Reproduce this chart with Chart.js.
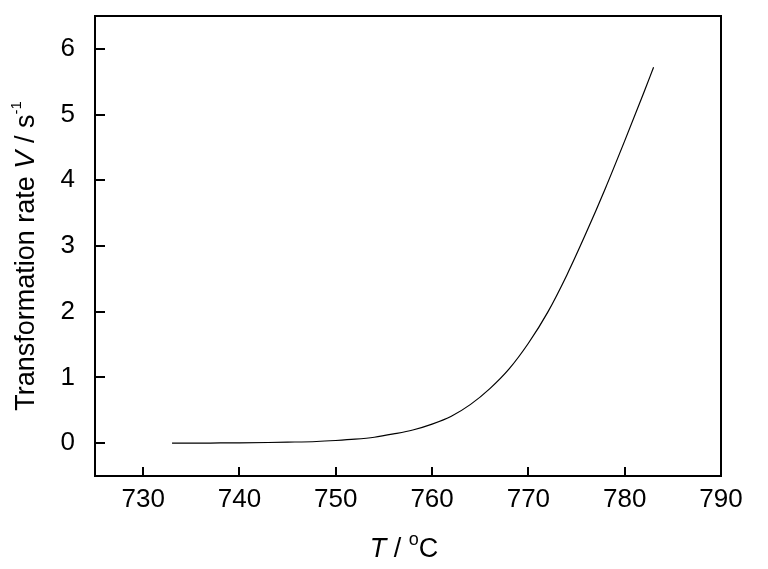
<!DOCTYPE html>
<html>
<head>
<meta charset="utf-8">
<script src="https://cdn.jsdelivr.net/npm/chart.js@4"></script>
<style>
  body { margin: 0; background: #fff; }
  #wrap { width: 768px; height: 569px; }
</style>
</head>
<body>
<div id="wrap"><canvas id="myChart"></canvas></div>
<script>
// temperature (°C) and transformation rate (1/s)
var temps = [733, 735, 738, 740, 743, 745, 748, 750, 752, 754, 756, 758, 760, 762, 764, 766, 768, 770, 772, 774, 776, 778, 780, 782, 783];
var rates = [0.0, 0.0, 0.003, 0.005, 0.01, 0.015, 0.025, 0.04, 0.06, 0.09, 0.14, 0.2, 0.29, 0.41, 0.59, 0.83, 1.13, 1.52, 1.99, 2.56, 3.2, 3.88, 4.6, 5.34, 5.72];
var xTicks = [730, 740, 750, 760, 770, 780, 790];
var yTicks = [0, 1, 2, 3, 4, 5, 6];

var FONT = '"Liberation Sans", Arial, sans-serif';

var points = temps.map(function(t, i) { return { x: t, y: rates[i] }; });

// frame, inward ticks and the axis titles (italic symbol + superscript)
var framePlugin = {
    id: 'frame',
    afterDraw: function(chart) {
        var ctx = chart.ctx;
        var a = chart.chartArea;
        var xs = chart.scales.x, ys = chart.scales.y;
        ctx.save();
        ctx.strokeStyle = '#000';
        ctx.lineWidth = 2;
        ctx.strokeRect(a.left, a.top, a.right - a.left, a.bottom - a.top);
        ctx.beginPath();
        xTicks.forEach(function(v) {
            var px = Math.round(xs.getPixelForValue(v));
            ctx.moveTo(px, a.bottom);
            ctx.lineTo(px, a.bottom - 9);
        });
        yTicks.forEach(function(v) {
            var py = Math.round(ys.getPixelForValue(v));
            ctx.moveTo(a.left, py);
            ctx.lineTo(a.left + 10, py);
        });
        ctx.stroke();

        ctx.fillStyle = '#000';
        ctx.textBaseline = 'alphabetic';
        // x title: T / °C
        var parts = [
            { t: 'T', f: 'italic 27px ' + FONT, dy: 0 },
            { t: ' / ', f: '27px ' + FONT, dy: 0 },
            { t: 'o', f: '18px ' + FONT, dy: -12 },
            { t: 'C', f: '27px ' + FONT, dy: 0 }
        ];
        drawParts(ctx, parts, 404, 557);

        // y title
        ctx.translate(34, 256);
        ctx.rotate(-Math.PI / 2);
        var yparts = [
            { t: 'Transformation rate ', f: '27px ' + FONT, dy: 0 },
            { t: 'V', f: 'italic 27px ' + FONT, dy: 0 },
            { t: ' / s', f: '27px ' + FONT, dy: 0 },
            { t: '-1', f: '15px ' + FONT, dy: -13 }
        ];
        drawParts(ctx, yparts, 0, 0);
        ctx.restore();
    }
};

function drawParts(ctx, parts, cx, baseY) {
    var total = 0;
    parts.forEach(function(p) { ctx.font = p.f; p.w = ctx.measureText(p.t).width; total += p.w; });
    var x = cx - total / 2;
    ctx.textAlign = 'left';
    parts.forEach(function(p) {
        ctx.font = p.f;
        ctx.fillText(p.t, x, baseY + p.dy);
        x += p.w;
    });
}

var ctx = document.getElementById('myChart').getContext('2d');
var chart = new Chart(ctx, {
    type: 'line',
    data: {
        datasets: [{
            data: points,
            borderColor: '#000',
            borderWidth: 1.2,
            pointRadius: 0,
            fill: false,
            cubicInterpolationMode: 'monotone'
        }]
    },
    options: {
        responsive: true,
        maintainAspectRatio: false,
        animation: false,
        layout: { padding: { top: 16, right: 47, left: 0, bottom: 0 } },
        plugins: { legend: { display: false }, tooltip: { enabled: false } },
        scales: {
            x: {
                type: 'linear',
                min: 725,
                max: 790,
                afterBuildTicks: function(scale) {
                    scale.ticks = xTicks.map(function(v) { return { value: v }; });
                },
                afterFit: function(scale) {
                    scale.height = 93;
                    scale.paddingLeft = 0; scale.paddingRight = 0;
                },
                grid: { display: false },
                border: { display: false },
                ticks: { color: '#000', padding: 0, maxRotation: 0, font: { family: FONT, size: 26 } }
            },
            y: {
                min: -0.5,
                max: 6.5,
                afterBuildTicks: function(scale) {
                    scale.ticks = yTicks.map(function(v) { return { value: v }; });
                },
                afterFit: function(scale) {
                    scale.width = 95;
                    scale.paddingTop = 0; scale.paddingBottom = 0;
                },
                grid: { display: false },
                border: { display: false },
                ticks: { color: '#000', padding: 12, font: { family: FONT, size: 26 } }
            }
        }
    },
    plugins: [framePlugin]
});
</script>
</body>
</html>
